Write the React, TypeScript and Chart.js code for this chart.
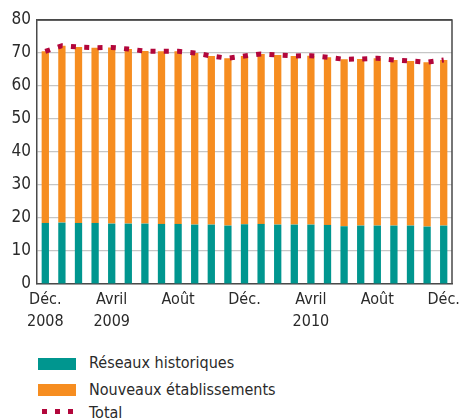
import React, { useEffect, useRef } from "react";
import { Chart, registerables } from "chart.js";

Chart.register(...registerables);

const months = [
  ["Déc.", "2008"], "", "", "", ["Avril", "2009"], "", "", "", "Août", "", "", "", "Déc.",
  "", "", "", ["Avril", "2010"], "", "", "", "Août", "", "", "", "Déc.",
];
const reseauxHistoriques = [
  18.5, 18.6, 18.5, 18.5, 18.3, 18.3, 18.3, 18.2, 18.2, 18.0, 18.0, 17.7, 18.1,
  18.2, 18.0, 18.0, 18.0, 17.9, 17.5, 17.7, 17.7, 17.7, 17.7, 17.4, 17.7,
];
const total = [
  70.5, 72.2, 71.8, 71.6, 71.7, 71.2, 70.6, 70.5, 70.5, 70.0, 69.1, 68.4, 69.1,
  69.7, 69.4, 69.1, 69.2, 68.7, 68.1, 68.2, 68.4, 67.9, 67.6, 67.2, 67.9,
];
const nouveauxEtablissements = total.map((t, i) => +(t - reseauxHistoriques[i]).toFixed(1));
const yTicks = [0, 10, 20, 30, 40, 50, 60, 70, 80];

const seriesNames = ["Réseaux historiques", "Nouveaux établissements", "Total"];
const TEAL = "#00968f";
const ORANGE = "#f68d20";
const RED = "#b2063b";
const AXIS = "#4a4a4a";
const FONT = "'Liberation Sans Narrow', 'DejaVu Sans Condensed', sans-serif";

const framePlugin = {
  id: "frame",
  afterDraw(chart: any) {
    const { ctx, chartArea } = chart;
    ctx.save();
    ctx.strokeStyle = AXIS;
    ctx.lineWidth = 1.5;
    ctx.beginPath();
    ctx.moveTo(chartArea.left, chartArea.top);
    ctx.lineTo(chartArea.right, chartArea.top);
    ctx.lineTo(chartArea.right, chartArea.bottom);
    ctx.stroke();
    ctx.restore();
  },
};

export default function App() {
  const ref = useRef<HTMLCanvasElement>(null);
  useEffect(() => {
    if (!ref.current) return;
    const chart = new Chart(ref.current, {
      type: "bar",
      data: {
        labels: months as any,
        datasets: [
          {
            type: "line",
            label: seriesNames[2],
            data: total,
            borderColor: RED,
            backgroundColor: RED,
            borderWidth: 5,
            borderDash: [5, 8.3],
            borderCapStyle: "butt",
            pointRadius: 0,
            tension: 0,
            stack: "t",
            order: 0,
          } as any,
          {
            label: seriesNames[0],
            data: reseauxHistoriques,
            backgroundColor: TEAL,
            stack: "s",
            order: 1,
            barPercentage: 0.44,
            categoryPercentage: 1,
          },
          {
            label: seriesNames[1],
            data: nouveauxEtablissements,
            backgroundColor: ORANGE,
            stack: "s",
            order: 1,
            barPercentage: 0.44,
            categoryPercentage: 1,
          },
        ],
      },
      options: {
        animation: false,
        responsive: false,
        layout: { padding: { top: 20, right: 11, left: 0, bottom: 0 } },
        plugins: { legend: { display: false }, tooltip: { enabled: false } },
        scales: {
          x: {
            stacked: true,
            offset: true,
            grid: { display: false, drawTicks: false },
            border: { display: true, color: AXIS, width: 1.5 },
            ticks: {
              autoSkip: false,
              maxRotation: 0,
              padding: 5,
              color: "#2a2a2a",
              font: { family: FONT, size: 16, lineHeight: 1.35 },
            },
            afterFit(scale: any) {
              scale.height = 56;
              scale.paddingLeft = 0;
              scale.paddingRight = 0;
            },
          },
          y: {
            stacked: true,
            min: 0,
            max: 80,
            afterBuildTicks(scale: any) {
              scale.ticks = yTicks.map((v) => ({ value: v }));
            },
            grid: {
              color: (c: any) => (c.tick && c.tick.value === 80 ? AXIS : "#c6c6c6"),
              lineWidth: (c: any) => (c.tick && c.tick.value === 80 ? 1.5 : 1.2),
              drawTicks: false,
            },
            border: { display: true, color: AXIS, width: 1.5 },
            ticks: {
              padding: 6,
              color: "#2a2a2a",
              font: { family: FONT, size: 17 },
            },
            afterFit(scale: any) {
              scale.width = 37;
            },
          },
        },
      },
      plugins: [framePlugin],
    });
    return () => chart.destroy();
  }, []);

  const textStyle: React.CSSProperties = {
    position: "absolute",
    left: 89,
    fontFamily: FONT,
    fontSize: 16,
    color: "#2a2a2a",
    lineHeight: "20px",
    whiteSpace: "nowrap",
  };

  return (
    <div style={{ position: "absolute", left: 0, top: 0, width: 463, height: 418, overflow: "hidden", background: "#fff" }}>
      <canvas ref={ref} width={463} height={340} style={{ position: "absolute", left: 0, top: 0 }} />
      <div style={{ position: "absolute", left: 38, top: 358, width: 38, height: 12, background: TEAL }} />
      <div style={{ ...textStyle, top: 353 }}>{seriesNames[0]}</div>
      <div style={{ position: "absolute", left: 38, top: 384, width: 38, height: 12, background: ORANGE }} />
      <div style={{ ...textStyle, top: 380 }}>{seriesNames[1]}</div>
      {[0, 1, 2].map((i) => (
        <div key={i} style={{ position: "absolute", left: 42 + i * 13, top: 409, width: 5, height: 5, background: RED }} />
      ))}
      <div style={{ ...textStyle, top: 403 }}>{seriesNames[2]}</div>
    </div>
  );
}
